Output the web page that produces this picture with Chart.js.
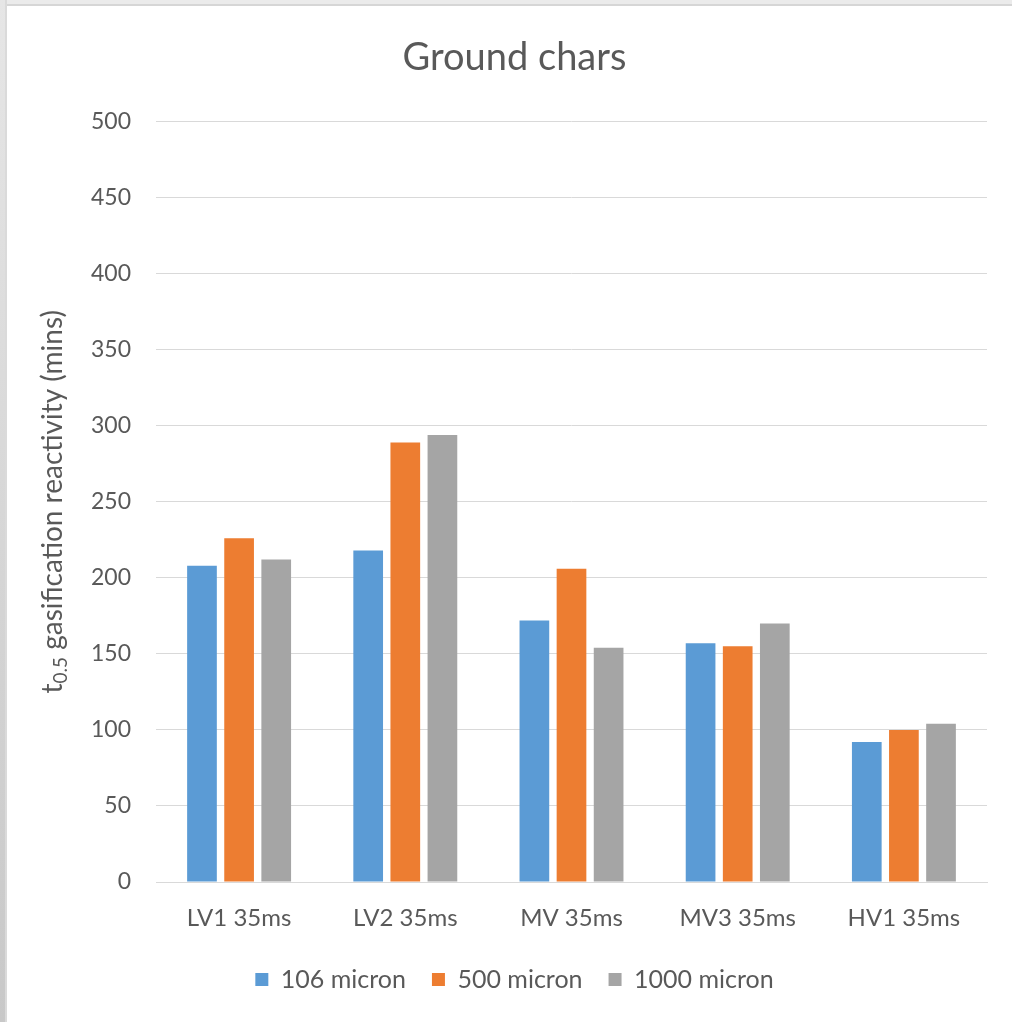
<!DOCTYPE html>
<html>
<head>
<meta charset="utf-8">
<script src="https://cdn.jsdelivr.net/npm/chart.js@4"></script>
<style>
  html, body { margin: 0; padding: 0; background: #ffffff; }
  #wrap { position: relative; width: 1012px; height: 1022px; overflow: hidden; }
  .strip-top { position: absolute; left: 0; top: 0; width: 1012px; height: 4px; background: #ebebeb; border-bottom: 2px solid #d6d6d6; }
  .strip-left { position: absolute; left: 0; top: 0; width: 5px; height: 1022px; background: linear-gradient(#e6e6e6, #c8c8c8); border-right: 2px solid #dadada; }
  canvas { position: absolute; left: 0; top: 0; }
</style>
</head>
<body>
<div id="wrap">
  <div class="strip-top"></div>
  <div class="strip-left"></div>
  <canvas id="chart" width="1012" height="1022"></canvas>
</div>
<script>
// Categories (char samples) and series (particle size)
const categories = ['LV1 35ms', 'LV2 35ms', 'MV 35ms', 'MV3 35ms', 'HV1 35ms'];
const seriesNames = ['106 micron', '500 micron', '1000 micron'];
const micron106 = [208, 218, 172, 157, 92];
const micron500 = [226, 289, 206, 155, 100];
const micron1000 = [212, 294, 154, 170, 104];
const yTicks = [0, 50, 100, 150, 200, 250, 300, 350, 400, 450, 500];

const textColor = '#595959';
const fontFamily = 'Lato, "Open Sans", sans-serif';

// Rotated y-axis title with a subscript "0.5" after the "t"
const yTitlePlugin = {
  id: 'yTitleSub',
  afterDraw(chart) {
    const ctx = chart.ctx;
    const area = chart.chartArea;
    const mainFont = '28px ' + fontFamily;
    const subFont = '19px ' + fontFamily;
    const partT = 't';
    const partSub = '0.5';
    const partRest = ' gasification reactivity (mins)';
    ctx.save();
    ctx.font = mainFont;
    const wT = ctx.measureText(partT).width;
    const wRest = ctx.measureText(partRest).width;
    ctx.font = subFont;
    const wSub = ctx.measureText(partSub).width;
    const total = wT + wSub + wRest;
    ctx.translate(53, (area.top + area.bottom) / 2);
    ctx.rotate(-Math.PI / 2);
    ctx.fillStyle = textColor;
    ctx.textBaseline = 'middle';
    ctx.textAlign = 'left';
    let x = -total / 2;
    ctx.font = mainFont;
    ctx.fillText(partT, x, 0);
    x += wT;
    ctx.font = subFont;
    ctx.fillText(partSub, x, 8);
    x += wSub;
    ctx.font = mainFont;
    ctx.fillText(partRest, x, 0);
    ctx.restore();
  }
};

new Chart(document.getElementById('chart'), {
  type: 'bar',
  data: {
    labels: categories,
    datasets: [
      { label: seriesNames[0], data: micron106, backgroundColor: '#5B9BD5' },
      { label: seriesNames[1], data: micron500, backgroundColor: '#ED7D31' },
      { label: seriesNames[2], data: micron1000, backgroundColor: '#A5A5A5' }
    ]
  },
  options: {
    responsive: false,
    animation: false,
    devicePixelRatio: 1,
    categoryPercentage: 0.67,
    barPercentage: 0.8,
    layout: { padding: { left: 42, right: 25, top: 0, bottom: 20 } },
    plugins: {
      title: {
        display: true,
        text: 'Ground chars',
        color: textColor,
        font: { family: fontFamily, size: 38, weight: 'normal' },
        padding: { top: 35, bottom: 41 }
      },
      legend: {
        position: 'bottom',
        labels: {
          boxWidth: 13,
          boxHeight: 13,
          padding: 26,
          color: textColor,
          font: { family: fontFamily, size: 25 }
        }
      },
      tooltip: { enabled: false }
    },
    scales: {
      x: {
        grid: { display: false, drawTicks: false },
        border: { display: true, color: '#D9D9D9' },
        ticks: { color: textColor, padding: 22, font: { family: fontFamily, size: 24 } },
        afterFit(scale) { scale.height = 59; }
      },
      y: {
        min: 0,
        max: 500,
        afterBuildTicks(scale) { scale.ticks = yTicks.map(v => ({ value: v })); },
        grid: { color: '#D9D9D9', lineWidth: 1, drawTicks: false },
        border: { display: false },
        ticks: { color: textColor, padding: 25, font: { family: fontFamily, size: 23 } },
        afterFit(scale) { scale.width = 114; }
      }
    }
  },
  plugins: [yTitlePlugin]
});
</script>
</body>
</html>
